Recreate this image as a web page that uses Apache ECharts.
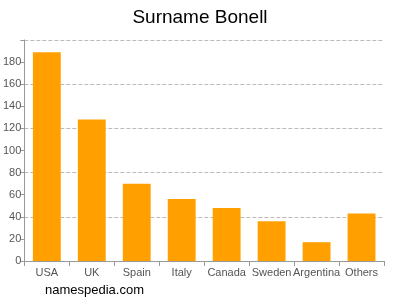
<!DOCTYPE html>
<html><head><meta charset="utf-8">
<script src="https://cdn.jsdelivr.net/npm/echarts@6/dist/echarts.min.js"></script>
<style>html,body{margin:0;padding:0;background:#fff}#c{width:400px;height:300px}</style>
</head><body><div id="c"></div>
<script>
var categories = ['USA','UK','Spain','Italy','Canada','Sweden','Argentina','Others'];
var values = [189, 128, 70, 56, 48, 36, 17, 43];
var yTicks = [0,20,40,60,80,100,120,140,160,180];

var font = 'Liberation Sans, Arial, sans-serif';
var chart = echarts.init(document.getElementById('c'), null, {renderer:'canvas'});
chart.setOption({
  animation: false,
  title: {
    text: 'Surname Bonell', left: 'center', top: 3,
    textStyle: {fontFamily: font, fontSize: 19, fontWeight: 'normal', color: '#000'}
  },
  graphic: [{
    type: 'text', left: 45, top: 284,
    style: {text: 'namespedia.com', font: '13px ' + font, fill: '#000'}
  }],
  grid: {left: 24, right: 16, top: 40, bottom: 39, containLabel: false},
  xAxis: {
    type: 'category', data: categories,
    axisLine: {lineStyle: {color: '#999'}},
    axisTick: {show: true, alignWithLabel: false, lineStyle: {color: '#999'}},
    axisLabel: {color: '#555', fontSize: 11, fontFamily: font, interval: 0, margin: 6}
  },
  yAxis: [{
    type: 'value', min: 0, max: 200, interval: 20,
    axisLine: {show: true, lineStyle: {color: '#999'}},
    axisTick: {show: true, length: 4, lineStyle: {color: '#999'}},
    axisLabel: {color: '#555', fontSize: 11, fontFamily: font, margin: 3,
      formatter: function(v){ return yTicks.indexOf(v) >= 0 ? String(v) : ''; }},
    splitLine: {show: false}
  }, {
    type: 'value', min: 0, max: 200, interval: 40, position: 'left',
    axisLine: {show: false}, axisTick: {show: false}, axisLabel: {show: false},
    splitLine: {show: true, lineStyle: {color: '#bbb', type: [4,2]}}
  }],
  series: [{
    type: 'bar', data: values, barCategoryGap: '38%', yAxisIndex: 0,
    itemStyle: {color: '#FFA000'}
  }]
});
</script></body></html>
